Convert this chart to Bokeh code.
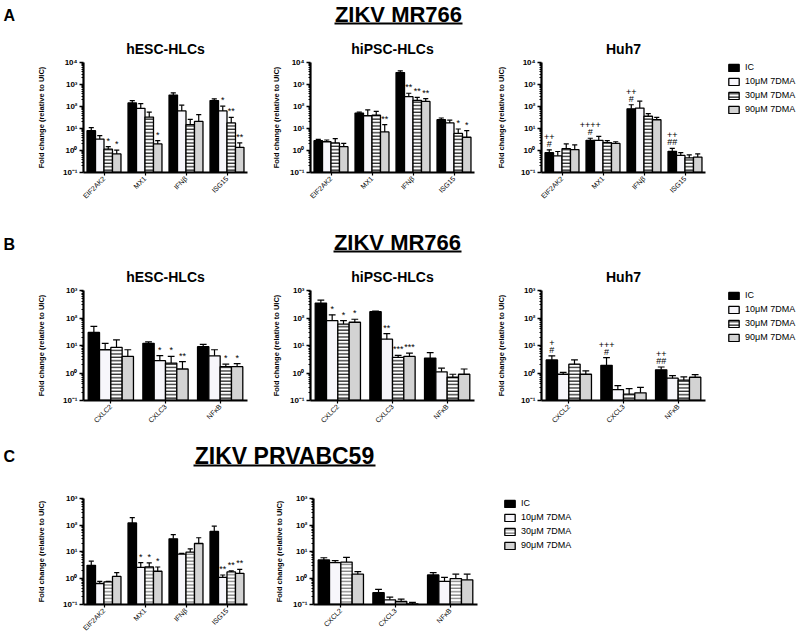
from bokeh.plotting import figure
from bokeh.models import FixedTicker, Legend, LegendItem, ColumnDataSource, Range1d
from bokeh.layouts import row, column
from bokeh.embed import file_html
from bokeh.resources import INLINE

FONT = "Liberation Sans"

series = ["IC", "10μM 7DMA", "30μM 7DMA", "90μM 7DMA"]

genes_isg = ["EIF2AK2", "MX1", "IFNβ", "ISG15"]
genes_cxl_a = ["CXLC2", "CXLC3", "NFκB"]
genes_cxl_b = ["CXCL2", "CXCL3", "NFκB"]

# ---------- Panel A (ZIKV MR766, ISGs) ----------
a_hesc_mean = [[8, 145, 330, 186], [3.3, 83, 63, 63], [1.15, 33, 15, 18], [0.7, 2.0, 21, 1.4]]
a_hesc_upper = [[11, 186, 420, 223], [4.7, 135, 115, 103], [1.5, 56, 26, 32], [1.05, 2.8, 43, 2.2]]
a_hesc_stars = [(0, 2, "*"), (0, 3, "*"), (1, 3, "*"), (3, 1, "*"), (3, 2, "**"), (3, 3, "**")]

a_hipsc_mean = [[2.8, 50, 3500, 25], [2.5, 38, 280, 18], [2.2, 40, 190, 6], [1.5, 7, 170, 4]]
a_hipsc_upper = [[3.2, 55, 4200, 30], [3.0, 70, 400, 24], [3.5, 60, 260, 9.5], [2.1, 15, 230, 8]]
a_hipsc_stars = [(1, 3, "**"), (2, 1, "**"), (2, 2, "**"), (2, 3, "**"), (3, 2, "*"), (3, 3, "*")]

a_huh7_mean = [[0.8, 2.9, 78, 0.92], [0.57, 2.9, 85, 0.6], [1.2, 2.3, 36, 0.46], [1.1, 2.1, 25, 0.5]]
a_huh7_upper = [[1.07, 3.6, 120, 1.25], [0.9, 4.4, 175, 0.8], [2.0, 2.8, 47, 0.63], [1.8, 2.5, 32, 0.7]]
a_huh7_marks = [(0, 0, "#", "++"), (1, 0, "#", "++++"), (2, 0, "#", "++"), (3, 0, "##", "++")]

# ---------- Panel B (ZIKV MR766, chemokines) ----------
b_hesc_mean = [[30, 12, 9], [7, 2.8, 4.2], [8.5, 2.3, 1.7], [4, 1.4, 1.7]]
b_hesc_upper = [[50, 13.5, 11], [12, 4.3, 7], [16, 4, 2.1], [7, 2.6, 2.2]]
b_hesc_stars = [(1, 1, "*"), (1, 2, "*"), (1, 3, "**"), (2, 2, "*"), (2, 3, "*")]

b_hipsc_mean = [[350, 170, 3.5], [80, 17, 1.1], [60, 3.7, 0.7], [70, 4, 0.9]]
b_hipsc_upper = [[450, 180, 5.5], [130, 27, 1.5], [80, 4.4, 0.9], [90, 5.3, 1.4]]
b_hipsc_stars = [(0, 1, "*"), (0, 2, "*"), (0, 3, "*"), (1, 1, "**"), (1, 2, "***"), (1, 3, "***")]

b_huh7_mean = [[3, 1.9, 1.3], [0.9, 0.25, 0.65], [2.1, 0.17, 0.55], [0.9, 0.19, 0.7]]
b_huh7_upper = [[4.2, 3.6, 1.65], [1.05, 0.35, 0.8], [3.0, 0.27, 0.72], [1.2, 0.3, 0.88]]
b_huh7_marks = [(0, 0, "#", "+"), (1, 0, "#", "+++"), (2, 0, "##", "++")]

# ---------- Panel C (ZIKV PRVABC59) ----------
c_isg_mean = [[3, 120, 30, 57], [0.62, 2.5, 8, 1.05], [0.72, 2.6, 9.5, 1.7], [1.15, 1.8, 20, 1.5]]
c_isg_upper = [[4.3, 190, 43, 90], [0.75, 3.8, 8.5, 1.3], [0.75, 3.7, 12.5, 1.85], [1.6, 2.6, 33, 2.1]]
c_isg_stars = [(1, 1, "*"), (1, 2, "*"), (1, 3, "*"), (3, 1, "**"), (3, 2, "**"), (3, 3, "**")]

c_cxl_mean = [[4.8, 0.28, 1.3], [3.8, 0.15, 0.75], [4.0, 0.13, 0.95], [1.4, 0.105, 0.85]]
c_cxl_upper = [[5.8, 0.37, 1.6], [4.5, 0.19, 1.05], [6.0, 0.16, 1.4], [1.75, 0.12, 1.4]]

log_ticks_4 = [0.1, 1, 10, 100, 1000, 10000]
log_ticks_3 = [0.1, 1, 10, 100, 1000]
tick_text = {0.1: "10⁻¹", 1: "10⁰", 10: "10¹", 100: "10²", 1000: "10³", 10000: "10⁴"}

BAR_W = 0.207
OFFS = [-1.5, -0.5, 0.5, 1.5]


def bar_style(s, grey_hatch=False):
    st = dict(line_color="black", line_width=1.3)
    if s == 0:
        st.update(fill_color="black")
    elif s == 1:
        st.update(fill_color="#f7f6fb")
    elif s == 2:
        st.update(fill_color="white", hatch_pattern="horizontal_line", hatch_scale=3.4,
                  hatch_weight=1.1, hatch_color="#666666" if grey_hatch else "black")
    else:
        st.update(fill_color="#d3d3d3")
    return st


def bar_plot(genes, means, uppers, ymax, ticks, fh, left, right, top, bottom,
             title="", stars=(), marks=(), grey_hatch=False, ylab_standoff=8):
    n = len(genes)
    kw = dict(title=title) if title else dict(title_location=None)
    p = figure(frame_width=164, frame_height=fh, x_range=Range1d(-0.5, n - 0.5),
               y_range=Range1d(0.1, ymax), y_axis_type="log", output_backend="svg",
               toolbar_location=None, min_border_left=left, min_border_right=right,
               min_border_top=top, min_border_bottom=bottom, **kw)
    p.outline_line_color = None
    p.grid.visible = False
    p.background_fill_color = None
    p.border_fill_color = None
    if title:
        p.title.align = "center"
        p.title.text_font = FONT
        p.title.text_font_size = "14px"
        p.title.text_font_style = "bold"
        p.title.text_color = "black"
        p.title.standoff = 11

    for s in range(4):
        xs = [g + OFFS[s] * BAR_W for g in range(n)]
        src = ColumnDataSource(dict(
            x=xs, top=means[s], up=uppers[s],
            xl=[x - 0.3 * BAR_W for x in xs], xr=[x + 0.3 * BAR_W for x in xs]))
        p.vbar(x="x", top="top", bottom=0.1, width=BAR_W, source=src, **bar_style(s, grey_hatch))
        p.segment(x0="x", y0="top", x1="x", y1="up", source=src, line_color="black", line_width=1.2)
        p.segment(x0="xl", y0="up", x1="xr", y1="up", source=src, line_color="black", line_width=1.2)

    tx, ty, tt, to = [], [], [], []
    for g, s, t in stars:
        tx.append(g + OFFS[s] * BAR_W)
        ty.append(uppers[s][g])
        tt.append(t)
        to.append(1)
    for g, s, t1, t2 in marks:
        x = g + OFFS[s] * BAR_W
        tx += [x, x]
        ty += [uppers[s][g], uppers[s][g]]
        tt += [t1, t2]
        to += [1, 10]
    if tt:
        tsrc = ColumnDataSource(dict(x=tx, y=ty, t=tt, off=[-o for o in to]))
        p.text(x="x", y="y", text="t", y_offset="off", source=tsrc, text_align="center",
               text_baseline="bottom", text_font_size="9px", text_color="black",
               text_font={"value": FONT})

    yax = p.yaxis[0]
    yax.ticker = FixedTicker(ticks=ticks,
                             minor_ticks=[m * t for t in ticks[:-1] for m in range(2, 10)])
    yax.major_label_overrides = {t: tick_text[t] for t in ticks}
    yax.axis_label = "Fold change (relative to UIC)"
    yax.axis_label_text_font = FONT
    yax.axis_label_text_font_size = "7.5px"
    yax.axis_label_text_font_style = "bold"
    yax.axis_label_text_color = "black"
    yax.axis_label_standoff = ylab_standoff
    yax.major_label_text_font = FONT
    yax.major_label_text_font_size = "8px"
    yax.major_label_text_font_style = "bold"
    yax.major_label_text_color = "black"
    yax.major_label_standoff = 2
    yax.axis_line_width = 2.2
    yax.major_tick_line_width = 1.6
    yax.major_tick_out = 4
    yax.major_tick_in = 0
    yax.minor_tick_out = 2
    yax.minor_tick_in = 0
    yax.minor_tick_line_width = 1

    xax = p.xaxis[0]
    xax.ticker = FixedTicker(ticks=list(range(n)))
    xax.major_label_overrides = {i: g for i, g in enumerate(genes)}
    xax.major_label_orientation = 0.785398
    xax.major_label_text_font = FONT
    xax.major_label_text_font_size = "7px"
    xax.major_label_text_color = "black"
    xax.major_label_standoff = 2
    xax.axis_line_width = 2
    xax.major_tick_line_width = 1.2
    xax.major_tick_out = 3
    xax.major_tick_in = 0
    xax.minor_tick_out = 0
    xax.minor_tick_in = 0
    return p


def legend_fig(width, height, left, top, grey_hatch=False):
    p = figure(width=width, height=height, x_range=Range1d(0, 1), y_range=Range1d(0, 1),
               x_axis_location=None, y_axis_location=None, output_backend="svg",
               toolbar_location=None, title_location=None, min_border_left=left,
               min_border_top=top, min_border_right=0, min_border_bottom=0)
    p.outline_line_color = None
    p.grid.visible = False
    p.background_fill_color = None
    p.border_fill_color = None
    items = []
    for s in range(4):
        r = p.vbar(x=[float("nan")], top=[float("nan")], width=0.1, **bar_style(s, grey_hatch))
        items.append(LegendItem(label=series[s], renderers=[r]))
    leg = Legend(items=items, location="top_left", margin=0, padding=0, spacing=4,
                 glyph_width=13, glyph_height=9, label_height=9, label_standoff=5,
                 label_text_font=FONT, label_text_font_size="9px", label_text_color="black",
                 border_line_color=None, background_fill_alpha=0)
    p.add_layout(leg)
    return p


def header_fig(height, letter, letter_mid, title, title_x, title_mid, title_size, ul_half, ul_y):
    p = figure(width=798, height=height, x_range=Range1d(0, 798), y_range=Range1d(0, height),
               x_axis_location=None, y_axis_location=None, output_backend="svg",
               toolbar_location=None, title_location=None, min_border=0)
    p.outline_line_color = None
    p.grid.visible = False
    p.background_fill_color = None
    p.border_fill_color = None
    p.text(x=[3], y=[letter_mid], text=[letter], text_align="left", text_baseline="middle",
           text_font={"value": FONT}, text_font_style="bold", text_font_size="16px")
    p.text(x=[title_x], y=[title_mid], text=[title], text_align="center",
           text_baseline="middle", text_font={"value": FONT}, text_font_style="bold",
           text_font_size=title_size)
    p.segment(x0=[title_x - ul_half], y0=[ul_y], x1=[title_x + ul_half],
              y1=[ul_y], line_color="black", line_width=2)
    return p


hA = header_fig(28, "A", 13, "ZIKV MR766", 398, 14, "22px", 64, 5)
A1 = bar_plot(genes_isg, a_hesc_mean, a_hesc_upper, 10000, log_ticks_4, 110, 83, 18, 32, 36,
              "hESC-HLCs", stars=a_hesc_stars, ylab_standoff=14)
A2 = bar_plot(genes_isg, a_hipsc_mean, a_hipsc_upper, 10000, log_ticks_4, 110, 45, 18, 32, 36,
              "hiPSC-HLCs", stars=a_hipsc_stars, ylab_standoff=6)
A3 = bar_plot(genes_isg, a_huh7_mean, a_huh7_upper, 10000, log_ticks_4, 110, 49, 15, 32, 36,
              "Huh7", marks=a_huh7_marks, ylab_standoff=12)
LA = legend_fig(78, 178, 7, 34)

hB = header_fig(50, "B", 12, "ZIKV MR766", 397, 14, "22px", 64, 5)
B1 = bar_plot(genes_cxl_a, b_hesc_mean, b_hesc_upper, 1000, log_ticks_3, 110, 83, 18, 31, 34,
              "hESC-HLCs", stars=b_hesc_stars, ylab_standoff=14)
B2 = bar_plot(genes_cxl_a, b_hipsc_mean, b_hipsc_upper, 1000, log_ticks_3, 110, 45, 18, 31, 34,
              "hiPSC-HLCs", stars=b_hipsc_stars, ylab_standoff=6)
B3 = bar_plot(genes_cxl_b, b_huh7_mean, b_huh7_upper, 1000, log_ticks_3, 110, 49, 15, 31, 34,
              "Huh7", marks=b_huh7_marks, ylab_standoff=12)
LB = legend_fig(78, 175, 7, 34)

hC = header_fig(39, "C", 14, "ZIKV PRVABC59", 284, 15, "23px", 91, 5)
C1 = bar_plot(genes_isg, c_isg_mean, c_isg_upper, 1000, log_ticks_3, 106, 83, 18, 24, 36,
              stars=c_isg_stars, grey_hatch=True, ylab_standoff=14)
C2 = bar_plot(genes_cxl_b, c_cxl_mean, c_cxl_upper, 1000, log_ticks_3, 106, 48, 18, 24, 36,
              grey_hatch=True, ylab_standoff=6)
LC = legend_fig(80, 166, 8, 28, grey_hatch=True)

layout = column(hA, row(A1, A2, A3, LA), hB, row(B1, B2, B3, LB), hC, row(C1, C2, LC))

open("out.html", "w").write(file_html(layout, INLINE))
